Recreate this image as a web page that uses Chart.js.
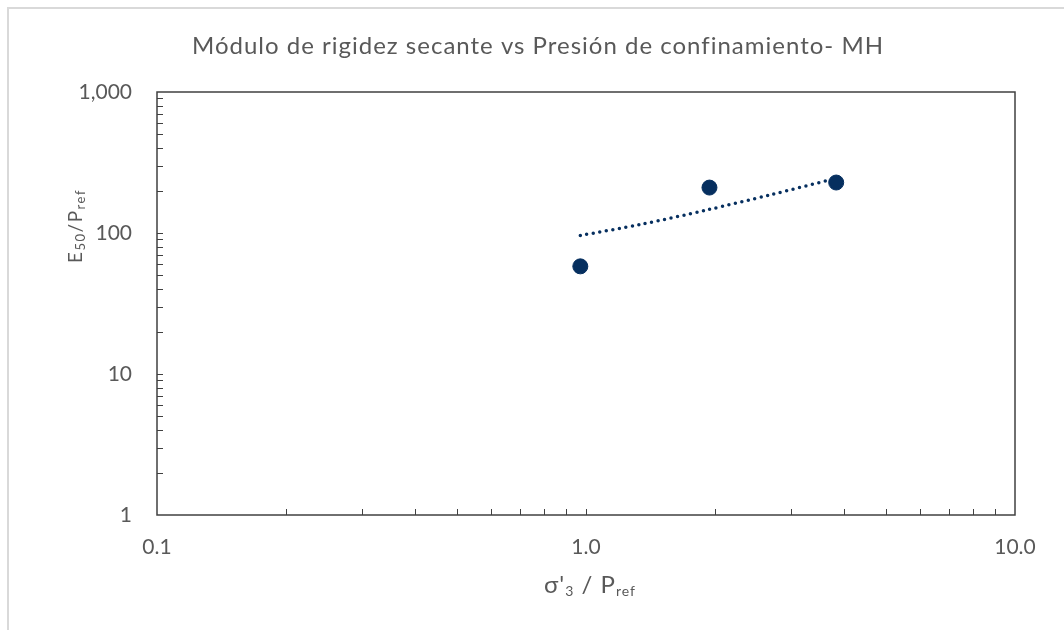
<!DOCTYPE html>
<html>
<head>
<meta charset="utf-8">
<script src="https://cdn.jsdelivr.net/npm/chart.js@4"></script>
<style>
  body { margin: 0; background: #fff; }
  #box { position: absolute; left: 7px; top: 7px; width: 1100px; height: 700px;
         border-top: 2px solid #d9d9d9; border-left: 2px solid #d9d9d9; }
  #wrap { position: absolute; left: 0; top: 0; width: 1064px; height: 630px; }
</style>
</head>
<body>
<div id="box"></div>
<div id="wrap"><canvas id="chart" width="1064" height="630"></canvas></div>
<script>
const chartTitle = 'Módulo de rigidez secante vs Presión de confinamiento- MH';
const pressure = [0.97, 1.94, 3.83];      // σ'3 / Pref
const stiffness = [58, 210, 228];         // E50 / Pref
const trendX = [0.97, 1.34, 1.92, 2.7, 3.7];
const trendY = [96, 115, 146, 187, 238];
const xTicks = [0.1, 1, 10];
const xTickLabels = ['0.1', '1.0', '10.0'];
const yTicks = [1, 10, 100, 1000];
const yTickLabels = ['1', '10', '100', '1,000'];

const navy = '#062f5f';
const grey = '#595959';
const font = 'Lato, "Noto Sans", sans-serif';

// writes a piece of text with sub-scripted parts, centred on x
function richText(ctx, parts, x, y, big, small) {
  let w = 0;
  parts.forEach(p => {
    ctx.font = (p.sub ? small : big) + 'px ' + font;
    w += ctx.measureText(p.t).width;
  });
  let cx = x - w / 2;
  parts.forEach(p => {
    ctx.font = (p.sub ? small : big) + 'px ' + font;
    ctx.fillText(p.t, cx, p.sub ? y + 3 : y);
    cx += ctx.measureText(p.t).width;
  });
}

const decor = {
  id: 'decor',
  afterDraw(chart) {
    const ctx = chart.ctx;
    const a = chart.chartArea;
    const xs = chart.scales.x, ys = chart.scales.y;
    ctx.save();
    ctx.strokeStyle = '#404040';
    ctx.lineWidth = 1.5;
    ctx.strokeRect(a.left, a.top, a.right - a.left, a.bottom - a.top);
    ctx.lineWidth = 1;
    ctx.beginPath();
    for (let d = 0.1; d < 10; d *= 10) {
      for (let k = 1; k <= 9; k++) {
        const px = Math.round(xs.getPixelForValue(d * k)) + 0.5;
        if (k > 1 || d > 0.1) { ctx.moveTo(px, a.bottom); ctx.lineTo(px, a.bottom - 6); }
      }
    }
    for (let d = 1; d < 1000; d *= 10) {
      for (let k = 1; k <= 9; k++) {
        const py = Math.round(ys.getPixelForValue(d * k)) + 0.5;
        if (k > 1 || d > 1) { ctx.moveTo(a.left, py); ctx.lineTo(a.left + 6, py); }
      }
    }
    ctx.stroke();

    ctx.fillStyle = grey;
    ctx.textBaseline = 'alphabetic';
    ctx.letterSpacing = '1px';
    ctx.font = '24px ' + font;
    ctx.textAlign = 'center';
    ctx.fillText(chartTitle, 538, 54);
    ctx.textAlign = 'left';
    richText(ctx, [{t: "σ'"}, {t: '3', sub: true}, {t: ' / P'}, {t: 'ref', sub: true}], (a.left + a.right) / 2 + 4, 593, 24, 14);
    ctx.letterSpacing = '1.5px';
    ctx.translate(82, 226);
    ctx.rotate(-Math.PI / 2);
    richText(ctx, [{t: 'E'}, {t: '50', sub: true}, {t: '/P'}, {t: 'ref', sub: true}], 0, 0, 19, 13);
    ctx.restore();
  }
};

new Chart(document.getElementById('chart'), {
  type: 'scatter',
  data: {
    datasets: [
      {
        label: 'E50/Pref',
        data: pressure.map((x, i) => ({x: x, y: stiffness[i]})),
        backgroundColor: navy,
        borderColor: navy,
        pointRadius: 7.5,
        pointHoverRadius: 7.5
      },
      {
        label: 'Tendencia',
        data: trendX.map((x, i) => ({x: x, y: trendY[i]})),
        showLine: true,
        pointRadius: 0,
        borderColor: navy,
        borderWidth: 3.5,
        borderDash: [0, 6.6],
        borderCapStyle: 'round',
        tension: 0.3
      }
    ]
  },
  options: {
    responsive: false,
    animation: false,
    layout: { padding: { left: 0, top: 92, right: 49, bottom: 0 } },
    plugins: { legend: { display: false }, tooltip: { enabled: false } },
    scales: {
      x: {
        type: 'logarithmic',
        min: 0.1,
        max: 10,
        afterBuildTicks: s => { s.ticks = xTicks.map(v => ({value: v})); },
        afterFit: s => { s.height = 115; },
        grid: { display: false, drawTicks: false },
        border: { display: false },
        ticks: {
          color: grey,
          padding: 20,
          maxRotation: 0,
          autoSkip: false,
          font: { family: font, size: 21 },
          callback: v => xTickLabels[xTicks.indexOf(v)]
        }
      },
      y: {
        type: 'logarithmic',
        min: 1,
        max: 1000,
        afterBuildTicks: s => { s.ticks = yTicks.map(v => ({value: v})); },
        afterFit: s => { s.width = 157; },
        grid: { display: false, drawTicks: false },
        border: { display: false },
        ticks: {
          color: grey,
          padding: 25,
          autoSkip: false,
          font: { family: font, size: 21 },
          callback: v => yTickLabels[yTicks.indexOf(v)]
        }
      }
    }
  },
  plugins: [decor]
});
</script>
</body>
</html>
